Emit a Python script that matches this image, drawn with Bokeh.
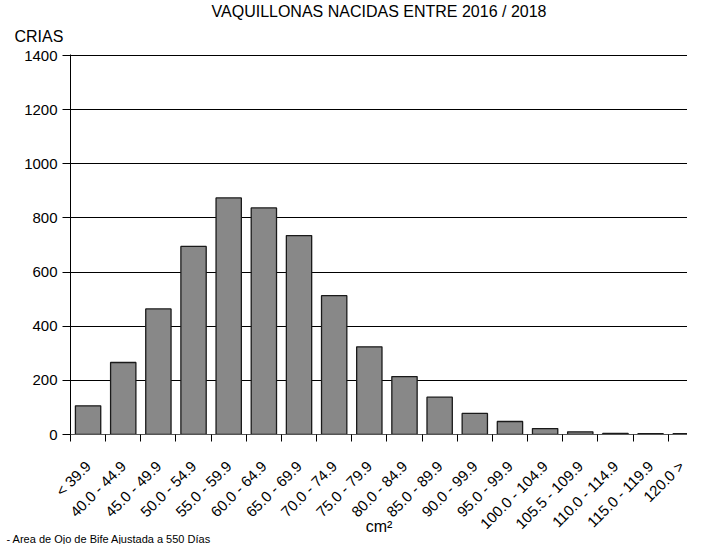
from math import pi
from bokeh.plotting import figure
from bokeh.models import ColumnDataSource, FixedTicker, Range1d, Title
from bokeh.embed import file_html
from bokeh.resources import INLINE

title_text = "VAQUILLONAS NACIDAS ENTRE 2016 / 2018"
y_title = "CRIAS"
x_title = "cm²"
footnote = "- Area de Ojo de Bife Ajustada a 550 Días"

categories = ["< 39.9", "40.0 - 44.9", "45.0 - 49.9", "50.0 - 54.9", "55.0 - 59.9",
              "60.0 - 64.9", "65.0 - 69.9", "70.0 - 74.9", "75.0 - 79.9", "80.0 - 84.9",
              "85.0 - 89.9", "90.0 - 99.9", "95.0 - 99.9", "100.0 - 104.9", "105.5 - 109.9",
              "110.0 - 114.9", "115.0 - 119.9", "120.0 >"]
crias = [106, 266, 464, 695, 874, 837, 735, 513, 324, 214, 138, 78, 48, 22, 10, 4, 3, 3]
y_ticks = [0, 200, 400, 600, 800, 1000, 1200, 1400]

positions = list(range(len(categories)))
boundaries = [i - 0.5 for i in positions]

source = ColumnDataSource(dict(x=positions, top=crias, cat=categories))

FONT = "Liberation Sans"

p = figure(width=687, height=544, output_backend="svg", toolbar_location=None,
           x_range=Range1d(-0.5, 17.05), y_range=Range1d(0, 1404),
           min_border_left=70, min_border_right=0, min_border_top=54, min_border_bottom=110)
p.outline_line_color = None
p.background_fill_color = "white"
p.border_fill_color = "white"

# titles (above)
p.title.text = title_text
p.title.align = "center"
p.title.text_font = FONT
p.title.text_font_size = "16px"
p.title.text_font_style = "normal"
p.title.text_color = "black"
p.title.standoff = 0
p.add_layout(Title(text=y_title, align="left", offset=-56, standoff=16,
                   vertical_align="top",
                   text_font=FONT, text_font_size="16px", text_font_style="normal",
                   text_color="black"), "above")

p.vbar(x="x", top="top", bottom=0, width=0.72, source=source,
       fill_color="#888888", line_color="#1a1a1a", line_width=1.3)

# x axis
p.xaxis.ticker = FixedTicker(ticks=positions, minor_ticks=boundaries)
p.xaxis.major_label_overrides = {i: c for i, c in zip(positions, categories)}
p.xaxis.major_tick_out = 0
p.xaxis.major_tick_in = 0
p.xaxis.minor_tick_out = 7
p.xaxis.minor_tick_in = 0
p.xaxis.minor_tick_line_color = "black"
p.xaxis.major_label_orientation = pi / 4
p.xaxis.major_label_standoff = 22
p.xaxis.major_label_text_font = FONT
p.xaxis.major_label_text_font_size = "15px"
p.xaxis.major_label_text_color = "black"
p.xaxis.axis_line_color = "#555555"
p.xaxis.axis_label = x_title
p.xaxis.axis_label_text_font = FONT
p.xaxis.axis_label_text_font_size = "16px"
p.xaxis.axis_label_text_font_style = "normal"
p.xaxis.axis_label_text_color = "black"
p.xaxis.axis_label_standoff = -23
p.xgrid.visible = False

# footnote (below)
p.add_layout(Title(text=footnote, align="left", offset=-64, standoff=-14,
                   vertical_align="middle",
                   text_font=FONT, text_font_size="11px", text_font_style="normal",
                   text_color="black"), "below")

# y axis
p.yaxis.ticker = FixedTicker(ticks=y_ticks)
p.yaxis.major_tick_out = 8
p.yaxis.major_tick_in = 0
p.yaxis.minor_tick_out = 0
p.yaxis.minor_tick_in = 0
p.yaxis.major_tick_line_color = "black"
p.yaxis.major_label_standoff = 5
p.yaxis.major_label_text_font = FONT
p.yaxis.major_label_text_font_size = "15px"
p.yaxis.major_label_text_color = "black"
p.yaxis.axis_line_color = "black"
p.ygrid.ticker = FixedTicker(ticks=y_ticks[1:])
p.ygrid.grid_line_color = "black"
p.ygrid.grid_line_width = 1

open("out.html", "w").write(file_html(p, INLINE))
